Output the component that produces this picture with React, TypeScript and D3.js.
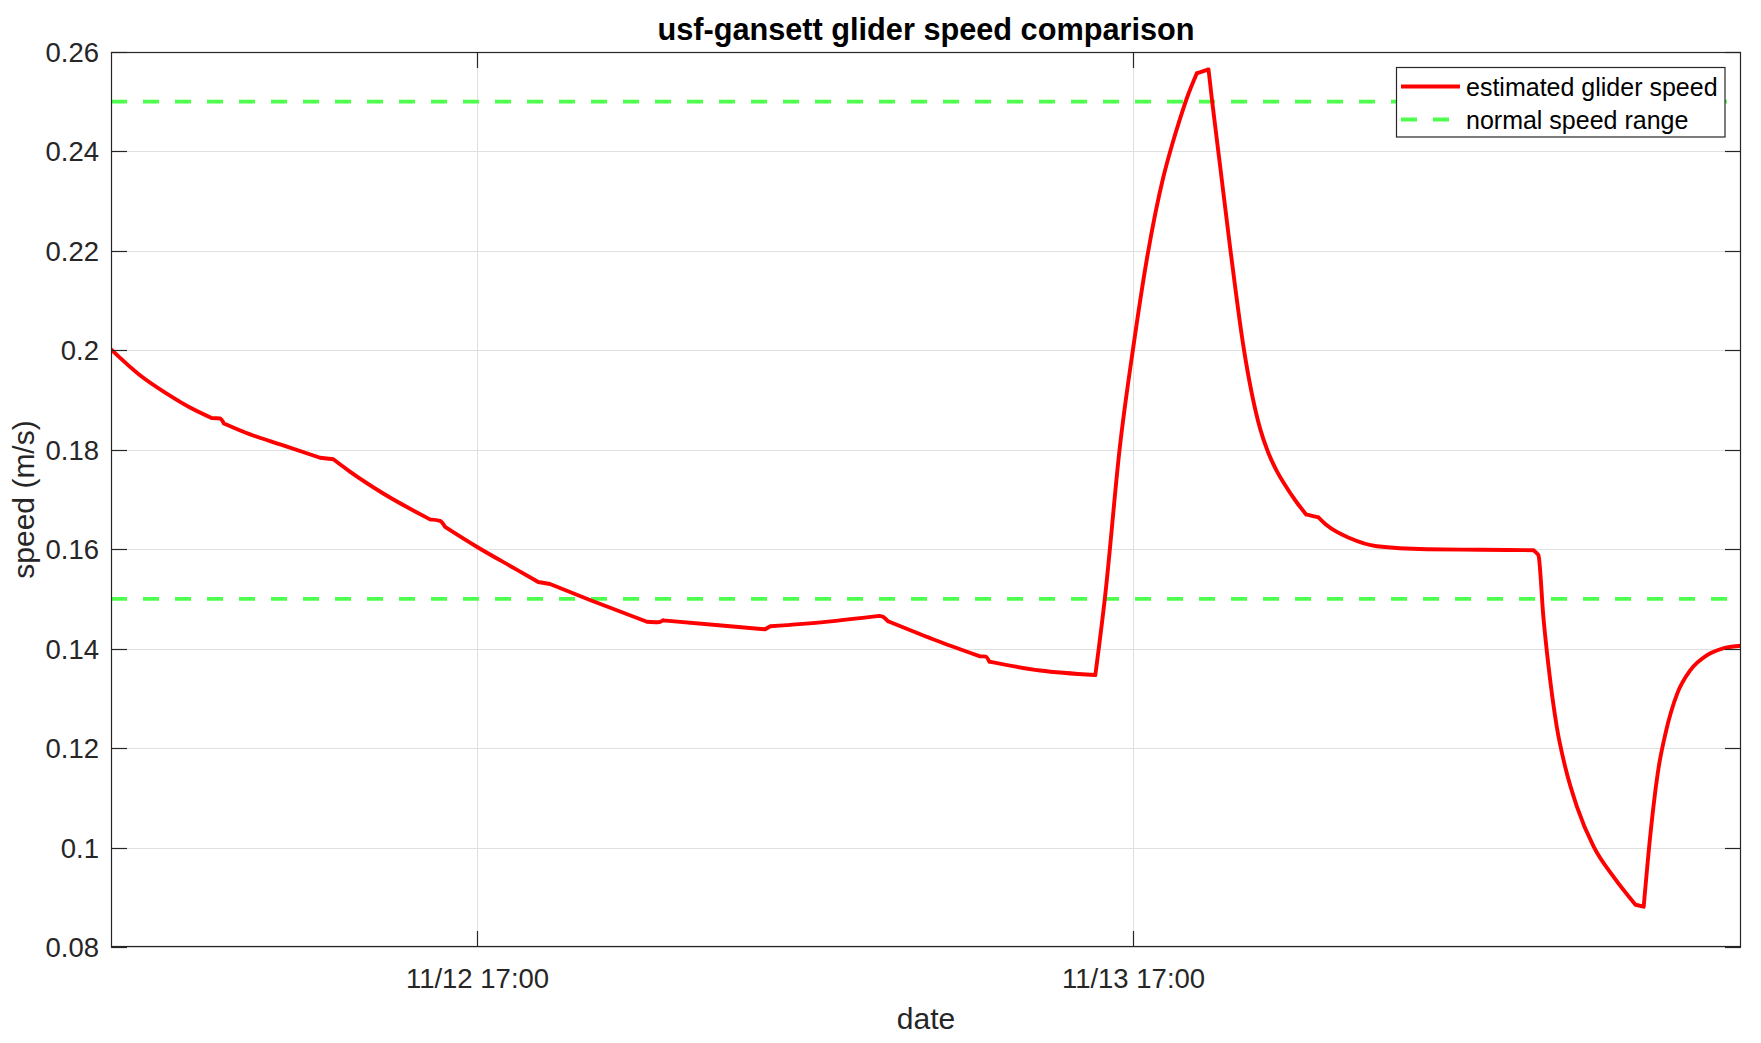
import React from "react";
import * as d3 from "d3";

// hours since 11/12 00:00
const hours: number[] = [
  3.61, 4.67, 5.65, 6.5, 7.29, 7.6, 7.74, 8.7, 9.91, 11.26, 11.74, 12.35, 13.57, 15.28, 15.65, 15.83,
  16.99, 18.45, 19.24, 19.67, 21.13, 23.22, 23.62, 23.81, 25.84, 27.54, 27.73, 29.76, 31.72, 31.85,
  32.04, 33.68, 35.38, 35.61, 35.74, 37.6, 39.62, 39.98, 40.52, 41.01, 41.5, 42.11, 42.42, 42.72,
  43.02, 43.33, 43.76, 43.88, 44.18, 44.55, 45.04, 45.65, 45.94, 46.26, 46.56, 46.95, 47.33, 47.78,
  48.09, 48.94, 49.92, 51.75, 53.7, 55.65, 55.77, 55.83, 56.01, 56.2, 56.5, 56.81, 57.24, 57.85,
  58.58, 59.38, 59.68, 59.93, 60.23, 60.48, 60.91, 61.39, 62.0, 62.62, 63.24,
];
const speed: number[] = [
  0.2002, 0.195, 0.1913, 0.1885, 0.1864, 0.1863, 0.1853, 0.1831, 0.1809, 0.1784, 0.1781, 0.1756,
  0.1712, 0.166, 0.1657, 0.1645, 0.1605, 0.1559, 0.1534, 0.153, 0.1498, 0.1454, 0.1453, 0.1457,
  0.1447, 0.1439, 0.1445, 0.1454, 0.1466, 0.1464, 0.1455, 0.1419, 0.1385, 0.1384, 0.1374, 0.1356,
  0.1347, 0.1507, 0.1807, 0.2007, 0.2182, 0.2349, 0.2412, 0.2466, 0.2515, 0.2557, 0.2565, 0.2507,
  0.2373, 0.2207, 0.2007, 0.1842, 0.1795, 0.1757, 0.1729, 0.1697, 0.167, 0.1664, 0.1648, 0.1622,
  0.1606, 0.16, 0.1599, 0.1598, 0.1592, 0.1588, 0.1464, 0.1364, 0.1243, 0.1162, 0.1082, 0.1002,
  0.0941, 0.0885, 0.0881, 0.1029, 0.1162, 0.123, 0.131, 0.1357, 0.1387, 0.1401, 0.1406,
];
// sample times where the recorded series changes direction abruptly
const cornerHours: number[] = [
  7.29, 7.74, 11.26, 11.74, 15.28, 15.83, 19.24, 19.67, 23.22, 23.81, 27.54, 27.73, 31.72, 32.04,
  35.38, 35.74, 39.62, 43.33, 43.76, 47.33, 47.78, 55.65, 59.38, 59.68,
];
const normalRange: number[] = [0.15, 0.25];
const xDomainHours: number[] = [3.61, 63.24];
const xTickHours: number[] = [17, 41];
const yTicks: number[] = [0.08, 0.1, 0.12, 0.14, 0.16, 0.18, 0.2, 0.22, 0.24, 0.26];
const legendLabels: string[] = ["estimated glider speed", "normal speed range"];
const titleText = "usf-gansett glider speed comparison";
const xLabel = "date";
const yLabel = "speed (m/s)";

const base = new Date(2020, 10, 12, 0, 0, 0).getTime();
const toDate = (h: number) => new Date(base + h * 3600 * 1000);

const W = 1761;
const H = 1043;
const L = 111;
const R = 1741;
const T = 52;
const B = 947;
const FONT = "'Liberation Sans', Arial, Helvetica, sans-serif";
const AX = "#262626";
const GRID = "#dfdfdf";
const RED = "#ff0000";
const GREEN = "#4dff4d";

export default function App() {
  const x = d3.scaleTime().domain(xDomainHours.map(toDate)).range([L, R]);
  const y = d3.scaleLinear().domain([0.08, 0.26]).range([B, T]);
  const fmtX = d3.timeFormat("%m/%d %H:%M");
  const fmtY = (v: number) => String(+v.toFixed(2));
  const pts = hours.map((h, i) => [toDate(h), speed[i]] as [Date, number]);
  const line = d3
    .line<[Date, number]>()
    .x((d) => x(d[0]))
    .y((d) => y(d[1]))
    .curve(d3.curveMonotoneX);

  const cornerSet = new Set(cornerHours);
  const segments: [Date, number][][] = [];
  let cur: [Date, number][] = [];
  pts.forEach((p, i) => {
    cur.push(p);
    if (cornerSet.has(hours[i]) && i < pts.length - 1) {
      segments.push(cur);
      cur = [p];
    }
  });
  if (cur.length > 1) segments.push(cur);
  const pathD = segments.map((s) => line(s) || "").join("");

  const tickLen = 16;
  const lgX = 1396.5;
  const lgY = 67.5;

  return (
    <div style={{ position: "absolute", left: 0, top: 0 }}>
      <svg width={W} height={H} style={{ display: "block", background: "#fff" }} fontFamily={FONT}>
        <rect x={0} y={0} width={W} height={H} fill="#fff" />
        <defs>
          <clipPath id="plot">
            <rect x={L} y={T} width={R - L} height={B - T} />
          </clipPath>
        </defs>
        {/* grid */}
        {yTicks.map((t) => (
          <line key={"gy" + t} x1={L} x2={R} y1={Math.round(y(t)) + 0.5} y2={Math.round(y(t)) + 0.5} stroke={GRID} strokeWidth={1} />
        ))}
        {xTickHours.map((h) => {
          const px = Math.round(x(toDate(h))) + 0.5;
          return <line key={"gx" + h} x1={px} x2={px} y1={T} y2={B} stroke={GRID} strokeWidth={1} />;
        })}
        {/* data */}
        <g clipPath="url(#plot)">
          {normalRange.map((v) => (
            <line key={"nr" + v} x1={L} x2={R} y1={y(v)} y2={y(v)} stroke={GREEN} strokeWidth={3.8} strokeDasharray="16,16" />
          ))}
          <path d={pathD} fill="none" stroke={RED} strokeWidth={3.9} strokeLinejoin="round" strokeLinecap="round" />
        </g>
        {/* axes box */}
        <rect x={L + 0.5} y={T + 0.5} width={R - L - 1} height={B - T - 1} fill="none" stroke={AX} strokeWidth={1.2} />
        {yTicks.map((t) => {
          const py = Math.round(y(t)) + 0.5;
          return (
            <g key={"yt" + t}>
              <line x1={L} x2={L + tickLen} y1={py} y2={py} stroke={AX} strokeWidth={1.2} />
              <line x1={R - tickLen} x2={R} y1={py} y2={py} stroke={AX} strokeWidth={1.2} />
              <text x={L - 12} y={py} dy="0.35em" textAnchor="end" fontSize={27.5} fill={AX}>
                {fmtY(t)}
              </text>
            </g>
          );
        })}
        {xTickHours.map((h) => {
          const px = Math.round(x(toDate(h))) + 0.5;
          return (
            <g key={"xt" + h}>
              <line x1={px} x2={px} y1={B - tickLen} y2={B} stroke={AX} strokeWidth={1.2} />
              <line x1={px} x2={px} y1={T} y2={T + tickLen} stroke={AX} strokeWidth={1.2} />
              <text x={px} y={988} textAnchor="middle" fontSize={27.5} fill={AX}>
                {fmtX(toDate(h))}
              </text>
            </g>
          );
        })}
        {/* labels */}
        <text x={(L + R) / 2} y={1029} textAnchor="middle" fontSize={30} fill={AX}>
          {xLabel}
        </text>
        <text transform={`translate(34, ${(T + B) / 2}) rotate(-90)`} textAnchor="middle" fontSize={30} fill={AX}>
          {yLabel}
        </text>
        <text x={(L + R) / 2} y={39.5} textAnchor="middle" fontSize={30.7} fontWeight="bold" fill="#000">
          {titleText}
        </text>
        {/* legend */}
        <rect x={lgX} y={lgY} width={328.5} height={69.5} fill="#fff" stroke={AX} strokeWidth={1.2} />
        <line x1={1401} x2={1460} y1={86.5} y2={86.5} stroke={RED} strokeWidth={3.9} />
        <line x1={1401} x2={1460} y1={119.5} y2={119.5} stroke={GREEN} strokeWidth={3.8} strokeDasharray="16,16" />
        <text x={1466} y={95.5} fontSize={25} fill="#000">
          {legendLabels[0]}
        </text>
        <text x={1466} y={128.5} fontSize={25} fill="#000">
          {legendLabels[1]}
        </text>
      </svg>
    </div>
  );
}
